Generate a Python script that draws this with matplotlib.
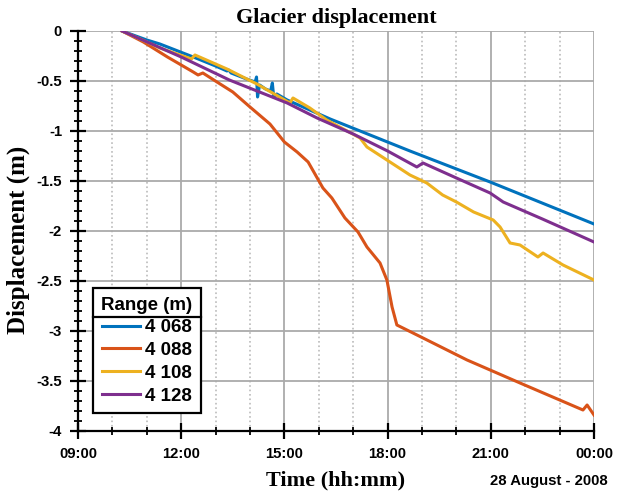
import matplotlib.pyplot as plt
from matplotlib.ticker import MultipleLocator, FuncFormatter
from matplotlib.lines import Line2D

plt.rcParams['axes.unicode_minus'] = False

# time in hours (28 August 2008), displacement in m
t_4068 = [10.28, 11.0, 11.38, 12.35, 13.0, 13.33, 13.38, 13.45, 13.9, 14.15, 14.19, 14.22,
          14.28, 14.45, 14.6, 14.65, 14.69, 14.78, 15.08, 16.33, 18.65, 20.98, 24.0]
d_4068 = [0, -0.09, -0.13, -0.26, -0.35, -0.40, -0.39, -0.42, -0.48, -0.51, -0.46, -0.66,
          -0.54, -0.58, -0.60, -0.52, -0.66, -0.63, -0.69, -0.88, -1.20, -1.51, -1.93]

t_4088 = [10.28, 10.9, 11.6, 12.35, 12.49, 12.63, 13.04, 13.5, 14.0, 14.58, 15.0, 15.37,
          15.69, 16.12, 16.38, 16.76, 17.14, 17.4, 17.78, 17.98, 18.13, 18.27, 19.03,
          20.31, 20.98, 21.85, 23.68, 23.8, 24.0]
d_4088 = [0, -0.11, -0.26, -0.41, -0.44, -0.42, -0.51, -0.61, -0.76, -0.93, -1.11, -1.21,
          -1.31, -1.57, -1.67, -1.87, -2.01, -2.16, -2.32, -2.49, -2.76, -2.94, -3.07,
          -3.29, -3.39, -3.52, -3.79, -3.74, -3.84]

t_4108 = [10.28, 11.0, 11.38, 12.3, 12.4, 13.33, 14.2, 15.16, 15.25, 15.74, 16.23, 17.2,
          17.4, 17.98, 18.65, 19.14, 19.6, 20.0, 20.5, 21.07, 21.27, 21.56, 21.85, 22.37,
          22.52, 23.1, 24.0]
d_4108 = [0, -0.11, -0.17, -0.28, -0.24, -0.38, -0.53, -0.72, -0.67, -0.77, -0.89, -1.07,
          -1.16, -1.29, -1.44, -1.52, -1.64, -1.71, -1.81, -1.89, -1.96, -2.12, -2.14, -2.26,
          -2.22, -2.34, -2.49]

t_4128 = [10.28, 12.0, 13.4, 15.08, 15.95, 17.0, 18.0, 18.85, 19.03, 20.0, 20.98, 21.36,
          22.5, 24.0]
d_4128 = [0, -0.26, -0.49, -0.72, -0.87, -1.03, -1.20, -1.36, -1.32, -1.47, -1.62, -1.71,
          -1.88, -2.11]

ranges = ['4 068', '4 088', '4 108', '4 128']
colors = ['#0072BD', '#D95319', '#EDB120', '#7E2F8E']

fig = plt.figure(figsize=(6.17, 4.91), dpi=100)
ax = fig.add_axes([0.1264, 0.1222, 0.8363, 0.8147])

series = [(t_4068, d_4068), (t_4088, d_4088), (t_4108, d_4108), (t_4128, d_4128)]
for (t, d), lab, c in zip(series, ranges, colors):
    ax.plot(t, d, color=c, lw=2.2, label=lab, solid_joinstyle='round', zorder=3)

ax.set_xlim(9, 24)
ax.set_ylim(-4, 0)
ax.xaxis.set_major_locator(MultipleLocator(3))
ax.xaxis.set_minor_locator(MultipleLocator(1))
ax.yaxis.set_major_locator(MultipleLocator(0.5))
ax.yaxis.set_minor_locator(MultipleLocator(0.1))
ax.xaxis.set_major_formatter(FuncFormatter(lambda v, p: '%02d:00' % (int(round(v)) % 24)))
ax.yaxis.set_major_formatter(FuncFormatter(lambda v, p: '%g' % v))

ax.grid(which='major', color='#aaaaaa', lw=1.3)
ax.grid(which='minor', axis='x', color='#bbbbbb', lw=1.2, ls=':')
ax.set_axisbelow(True)

for s in ['top', 'right']:
    ax.spines[s].set_visible(False)
for s in ['left', 'bottom']:
    ax.spines[s].set_linewidth(1.6)
    ax.spines[s].set_zorder(4)

ax.tick_params(which='major', direction='inout', length=11, width=1.6,
               labelsize=10.7, pad=6)
ax.tick_params(which='minor', direction='inout', length=6, width=1.3)
for lbl in ax.get_xticklabels() + ax.get_yticklabels():
    lbl.set_fontweight('bold')
    lbl.set_family('Liberation Sans')

serif = dict(fontweight='bold', family='Liberation Serif', ha='center', va='center')
fig.text(336 / 617, 1 - 18 / 491, 'Glacier displacement', fontsize=16, **serif)
fig.text(336 / 617, 1 - 480 / 491, 'Time (hh:mm)', fontsize=16, **serif)
fig.text(18 / 617, 1 - 240 / 491, 'Displacement (m)', fontsize=18, rotation=90, **serif)
fig.text(0.985, 1 - 481 / 491, '28 August - 2008', ha='right', va='center', fontsize=10.7,
         fontweight='bold', family='Liberation Sans')

leg = ax.legend(title='Range (m)', loc='lower left', bbox_to_anchor=(0.029, 0.045),
                borderaxespad=0, fancybox=False, framealpha=1, edgecolor='black',
                prop={'family': 'Liberation Sans', 'weight': 'bold', 'size': 13.5},
                title_fontproperties={'family': 'Liberation Sans', 'weight': 'bold',
                                      'size': 13.5},
                handlelength=2.0, handletextpad=0.25, labelspacing=0.3, borderpad=0.45)
leg.get_frame().set_linewidth(1.6)
leg.set_zorder(5)

# separator line under the legend title
fig.canvas.draw()
fb = leg.get_frame().get_window_extent()
tb = leg.get_title().get_window_extent()
ysep = tb.y0 - 3
inv = fig.transFigure.inverted()
x0, y0 = inv.transform((fb.x0, ysep))
x1, _ = inv.transform((fb.x1, ysep))
fig.add_artist(Line2D([x0, x1], [y0, y0], color='black', lw=1.6, zorder=6))

fig.savefig('out.png', dpi=100)
